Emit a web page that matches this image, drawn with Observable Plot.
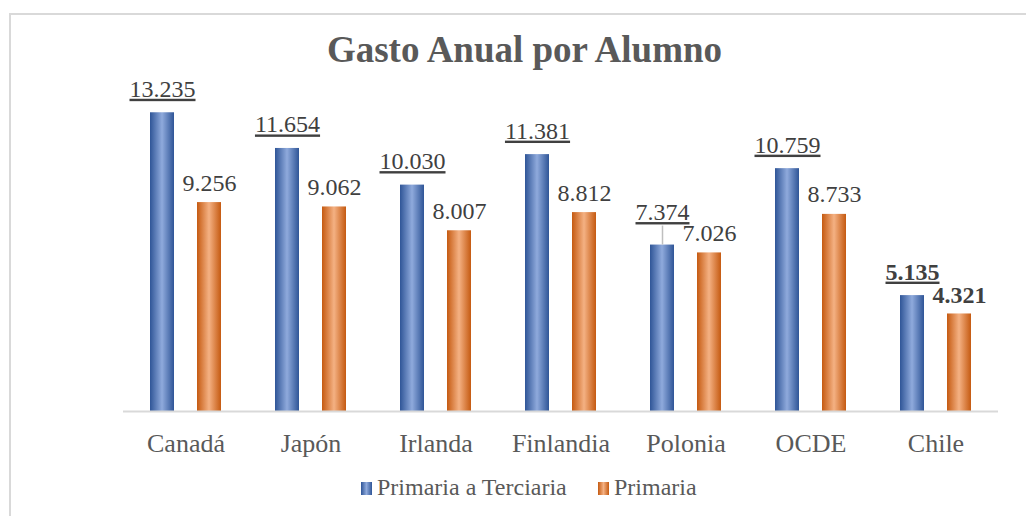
<!DOCTYPE html>
<html>
<head>
<meta charset="utf-8">
<script src="https://cdn.jsdelivr.net/npm/d3@7"></script>
<script src="https://cdn.jsdelivr.net/npm/@observablehq/plot@0.6"></script>
<style>
  html, body { margin: 0; padding: 0; background: #fff; overflow: hidden; }
  #wrap { position: relative; width: 1026px; height: 516px; overflow: hidden; font-family: "Liberation Serif", "Times New Roman", serif; }
  #frame { position: absolute; left: 9px; top: 13px; width: 1100px; height: 600px; border-top: 2px solid #d9d9d9; border-left: 2px solid #d9d9d9; }
  #title { position: absolute; left: 0; top: 31px; width: 1049px; text-align: center; font-size: 37px; line-height: 37px; font-weight: bold; color: #595959; }
  #chart { position: absolute; left: 0; top: 0; }
  .lg { position: absolute; top: 475px; font-size: 24px; line-height: 24px; color: #595959; white-space: nowrap; }
  .sw { position: absolute; top: 482px; width: 11px; height: 13px; }
</style>
</head>
<body>
<div id="wrap">
  <div id="frame"></div>
  <div id="title">Gasto Anual por Alumno</div>
  <div id="chart"></div>
  <div id="legend"></div>
</div>
<script>
const countries = ["Canadá", "Japón", "Irlanda", "Finlandia", "Polonia", "OCDE", "Chile"];
const seriesNames = ["Primaria a Terciaria", "Primaria"];
const primariaTerciaria = [13235, 11654, 10030, 11381, 7374, 10759, 5135];
const primaria = [9256, 9062, 8007, 8812, 7026, 8733, 4321];
const seriesGradients = [["#2f5597", "#8faadc"], ["#c55a11", "#f4b183"]];

const rows = countries.flatMap((c, i) => [
  {country: c, series: seriesNames[0], value: primariaTerciaria[i]},
  {country: c, series: seriesNames[1], value: primaria[i]}
]);

const locale = d3.formatLocale({decimal: ",", thousands: ".", grouping: [3], currency: ["$", ""]});
const fmt = locale.format(",d");
const isBlue = d => d.series === seriesNames[0];
const special = ["Polonia", "Chile"];
const serif = "'Liberation Serif', 'Times New Roman', serif";

const chart = Plot.plot({
  width: 1026,
  height: 470,
  marginLeft: 122,
  marginRight: 27,
  marginTop: 95,
  marginBottom: 59,
  style: {fontFamily: serif, fontSize: "26px", color: "#595959", background: "transparent", overflow: "visible"},
  facet: {data: rows, x: "country"},
  fx: {domain: countries, padding: 0, axis: "bottom", tickSize: 0, tickPadding: 22.5, label: null},
  x: {domain: seriesNames, axis: null, paddingInner: 0.48, paddingOuter: 0.55},
  y: {domain: [0, 14000], axis: null},
  color: {domain: seriesNames, range: ["url(#gBlue)", "url(#gOrange)"]},
  marks: [
    Plot.barY(rows, {x: "series", y: "value", fill: "series"}),
    Plot.ruleY([0], {stroke: "#d9d9d9", strokeWidth: 2}),
    // blue labels (underlined)
    Plot.text(rows, {filter: d => isBlue(d) && !special.includes(d.country), x: "series", y: "value", text: d => fmt(d.value), dy: -16, lineAnchor: "bottom", fill: "#404040", fontSize: 24, fontFamily: serif, ariaDescription: "underlined"}),
    Plot.text(rows, {filter: d => isBlue(d) && d.country === "Polonia", x: "series", y: "value", text: d => fmt(d.value), dy: -25, lineAnchor: "bottom", fill: "#404040", fontSize: 24, fontFamily: serif, ariaDescription: "underlined"}),
    Plot.ruleX(rows, {filter: d => isBlue(d) && d.country === "Polonia", x: "series", y1: "value", y2: "value", insetTop: 0, insetBottom: 19, stroke: "#bfbfbf", strokeWidth: 1.5}),
    Plot.text(rows, {filter: d => isBlue(d) && d.country === "Chile", x: "series", y: "value", text: d => fmt(d.value), dy: -16, lineAnchor: "bottom", fill: "#404040", fontSize: 24, fontFamily: serif, fontWeight: "bold", ariaDescription: "underlined"}),
    // orange labels
    Plot.text(rows, {filter: d => !isBlue(d) && d.country !== "Chile", x: "series", y: "value", text: d => fmt(d.value), dy: -12, lineAnchor: "bottom", fill: "#404040", fontSize: 24, fontFamily: serif}),
    Plot.text(rows, {filter: d => !isBlue(d) && d.country === "Chile", x: "series", y: "value", text: d => fmt(d.value), dy: -11, lineAnchor: "bottom", fill: "#404040", fontSize: 24, fontFamily: serif, fontWeight: "bold"})
  ]
});

const svg = d3.select(chart);
const defs = svg.insert("defs", ":first-child");
[["gBlue", seriesGradients[0]], ["gOrange", seriesGradients[1]]].forEach(([id, [dark, light]]) => {
  const g = defs.append("linearGradient").attr("id", id).attr("x1", 0).attr("x2", 1).attr("y1", 0).attr("y2", 0);
  g.append("stop").attr("offset", "0%").attr("stop-color", dark);
  g.append("stop").attr("offset", "50%").attr("stop-color", light);
  g.append("stop").attr("offset", "100%").attr("stop-color", dark);
});
svg.selectAll('g[aria-description="underlined"] text')
  .style("text-decoration", "underline")
  .style("text-decoration-color", "#595959");
document.getElementById("chart").appendChild(chart);

// legend
const legend = d3.select("#legend");
const lgPos = [{sw: 361, tx: 377}, {sw: 598, tx: 614}];
seriesNames.forEach((name, i) => {
  const [dark, light] = seriesGradients[i];
  legend.append("div").attr("class", "sw").style("left", lgPos[i].sw + "px")
    .style("background", `linear-gradient(to right, ${dark}, ${light}, ${dark})`);
  legend.append("div").attr("class", "lg").style("left", lgPos[i].tx + "px").text(name);
});
</script>
</body>
</html>
